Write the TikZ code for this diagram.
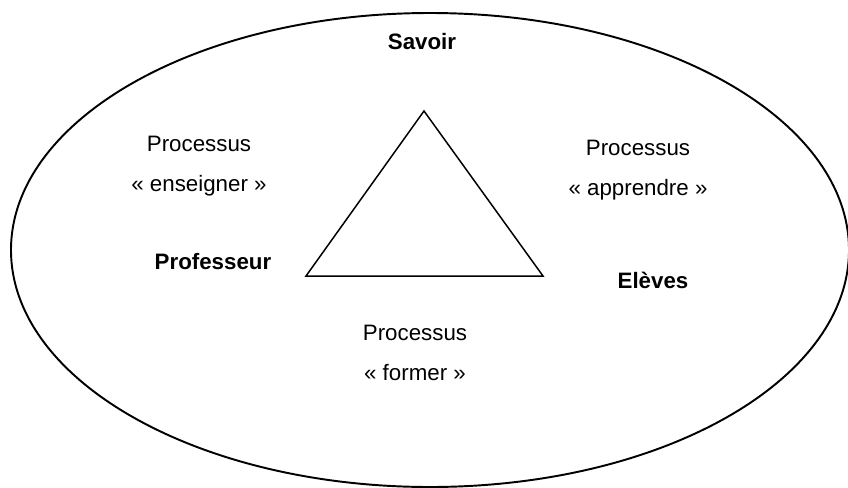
\documentclass[tikz,border=0pt]{standalone}
\usepackage{fontspec}
\setmainfont{Liberation Sans}
\usetikzlibrary{positioning}

\begin{document}
\begin{tikzpicture}[x=0.02cm, y=-0.02cm,
    every node/.style={font=\fontsize{12.7}{22.4}\selectfont},
    pole/.style={font=\fontsize{12.7}{22.4}\selectfont\bfseries},
    process/.style={align=center}]

    \useasboundingbox (0,0) rectangle (848,487);

    % Frame
    \draw[line width=1.1pt] (430,250) ellipse [x radius=419, y radius=237];

    % Triangle
    \coordinate (top) at (424,111);
    \coordinate (left) at (306,276);
    \coordinate (right) at (543,276);
    \draw[line width=0.85pt] (top) -- (left) -- (right) -- cycle;

    % Poles
    \node[pole] (savoir) at (422,42) {Savoir};
    \node[pole] (prof) at (213,262) {Professeur};
    \node[pole] (eleves) at (653,280) {Elèves};

    % Processes
    \node[process] (enseigner) at (199,166) {Processus\\« enseigner »};
    \node[process] (apprendre) at (638,170) {Processus\\« apprendre »};
    \node[process] (former) at (415,353) {Processus\\« former »};

\end{tikzpicture}
\end{document}
